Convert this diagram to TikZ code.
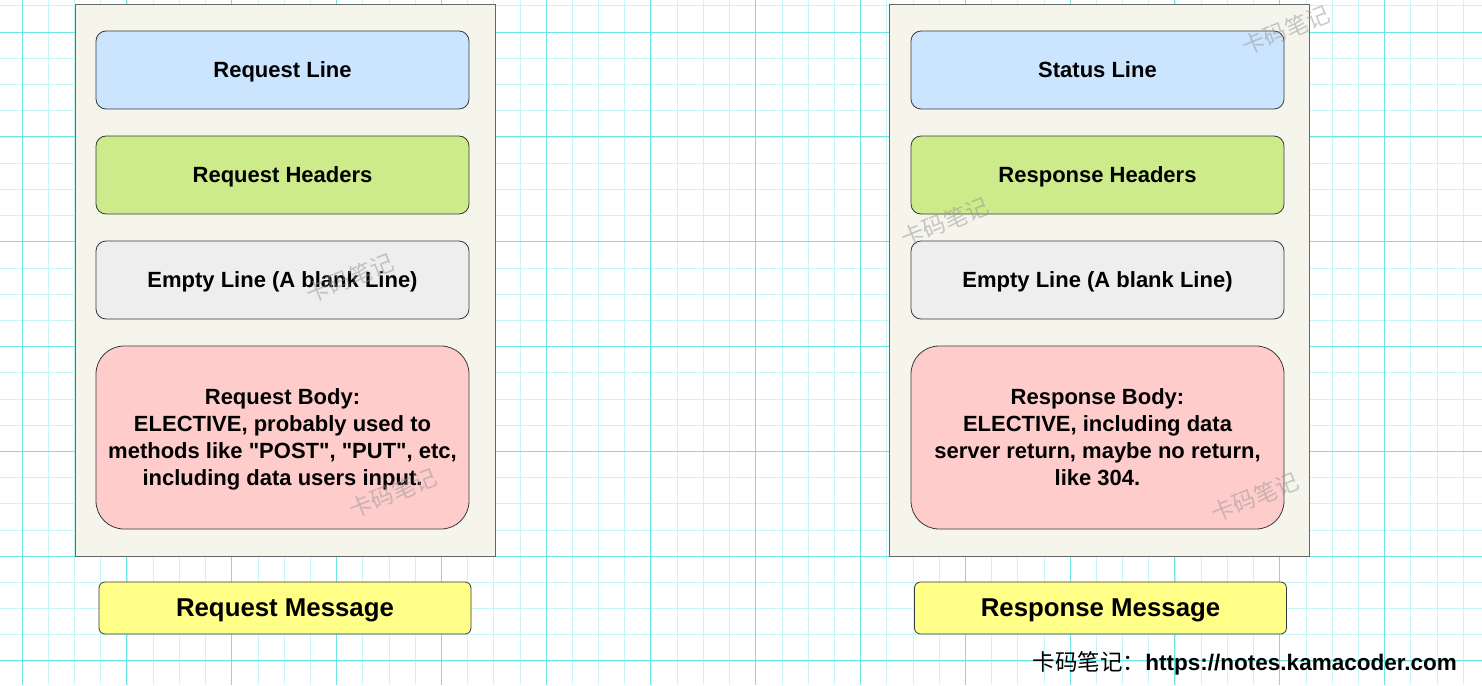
\documentclass[tikz,border=0pt]{standalone}
\usepackage{fontspec}
\setmainfont{Liberation Sans}[Ligatures=TeXOff]
\newfontfamily\cjk{Noto Sans CJK SC}
\usepackage{tikz}
\usetikzlibrary{positioning}
\definecolor{gridMinor}{RGB}{200,245,245}
\definecolor{gridMajor}{RGB}{110,230,230}
\definecolor{fondo}{RGB}{246,245,236}
\definecolor{bordeCaja}{RGB}{102,102,102}
\definecolor{bordeParte}{RGB}{54,57,61}
\definecolor{azulLinea}{RGB}{204,229,255}
\definecolor{verdeHead}{RGB}{205,235,139}
\definecolor{grisVacio}{RGB}{238,238,238}
\definecolor{rosaBody}{RGB}{255,204,204}
\definecolor{amarillo}{RGB}{255,255,136}
\definecolor{marcaAgua}{RGB}{150,150,150}
\tikzstyle{container}=[draw=bordeCaja, fill=fondo, line width=1pt,
                    minimum width=420pt, minimum height=551pt,
                    inner sep=0pt]
\tikzstyle{part}  =[draw=bordeParte, line width=0.8pt, rounded corners=10pt,
                    minimum width=373pt, minimum height=78pt,
                    inner sep=0pt, align=center, text depth=0pt,
                    font=\fontsize{22}{27}\selectfont\bfseries]
\tikzstyle{bodypart}=[part, rounded corners=28pt, minimum height=183pt]
\tikzstyle{msglabel}=[draw=bordeParte, fill=amarillo, line width=0.8pt,
                    rounded corners=6pt, minimum width=372pt,
                    minimum height=52pt, inner sep=0pt, text depth=0pt,
                    font=\fontsize{25.8}{30}\selectfont\bfseries]
\tikzstyle{watermark}=[text=marcaAgua, opacity=0.5, inner sep=0pt,
                    font=\fontsize{23}{23}\selectfont\cjk]

\begin{document}
\begin{tikzpicture}[x=1pt, y=-1pt]
    \useasboundingbox (0,0) rectangle (1482,685);

    % grid
    \foreach \k in {0,...,55}
        \draw [gridMinor, line width=0.6pt] ({22+26.2*\k},0) -- ({22+26.2*\k},685);
    \foreach \k in {0,...,25}
        \draw [gridMinor, line width=0.6pt] (0,{5.8+26.2*\k}) -- (1482,{5.8+26.2*\k});
    \foreach \m in {0,...,13}
        \draw [gridMajor, line width=0.8pt] ({22+104.8*\m},0) -- ({22+104.8*\m},685);
    \foreach \m in {0,...,6}
        \draw [gridMajor, line width=0.8pt] (0,{32+104.8*\m}) -- (1482,{32+104.8*\m});

    % request side
    \node[container] (reqBox) at (285,280.5) {};
    \node[part, fill=azulLinea] (reqLine) at (282.5,70) {Request Line};
    \node[part, fill=verdeHead] (reqHead) at (282.5,175) {Request Headers};
    \node[part, fill=grisVacio] (reqEmpty) at (282.5,280) {Empty Line (A blank Line)};
    \node[bodypart, fill=rosaBody] (reqBody) at (282.5,437.5)
        {Request Body:\\ELECTIVE, probably used to\\methods like "POST", "PUT", etc,\\including data users input.};
    \node[msglabel] (reqMsg) at (285,608) {Request Message};

    % response side
    \node[container] (resBox) at (1099,280.5) {};
    \node[part, fill=azulLinea] (resLine) at (1097.5,70) {Status Line};
    \node[part, fill=verdeHead] (resHead) at (1097.5,175) {Response Headers};
    \node[part, fill=grisVacio] (resEmpty) at (1097.5,280) {Empty Line (A blank Line)};
    \node[bodypart, fill=rosaBody] (resBody) at (1097.5,437.5)
        {Response Body:\\ELECTIVE, including data\\server return, maybe no return,\\like 304.};
    \node[msglabel] (resMsg) at (1100.5,608) {Response Message};

    % watermarks
    \node[watermark, rotate=22] (wm1) at (350,278) {卡码笔记};
    \node[watermark, rotate=22] (wm2) at (393,493) {卡码笔记};
    \node[watermark, rotate=22] (wm3) at (1286,30) {卡码笔记};
    \node[watermark, rotate=22] (wm4) at (945,222) {卡码笔记};
    \node[watermark, rotate=22] (wm5) at (1255,497) {卡码笔记};

    \node[anchor=east, inner sep=0pt, font=\fontsize{22.5}{23}\selectfont] (footer) at (1457,663)
        {{\cjk 卡码笔记：}\textbf{https://notes.kamacoder.com}};
\end{tikzpicture}
\end{document}
